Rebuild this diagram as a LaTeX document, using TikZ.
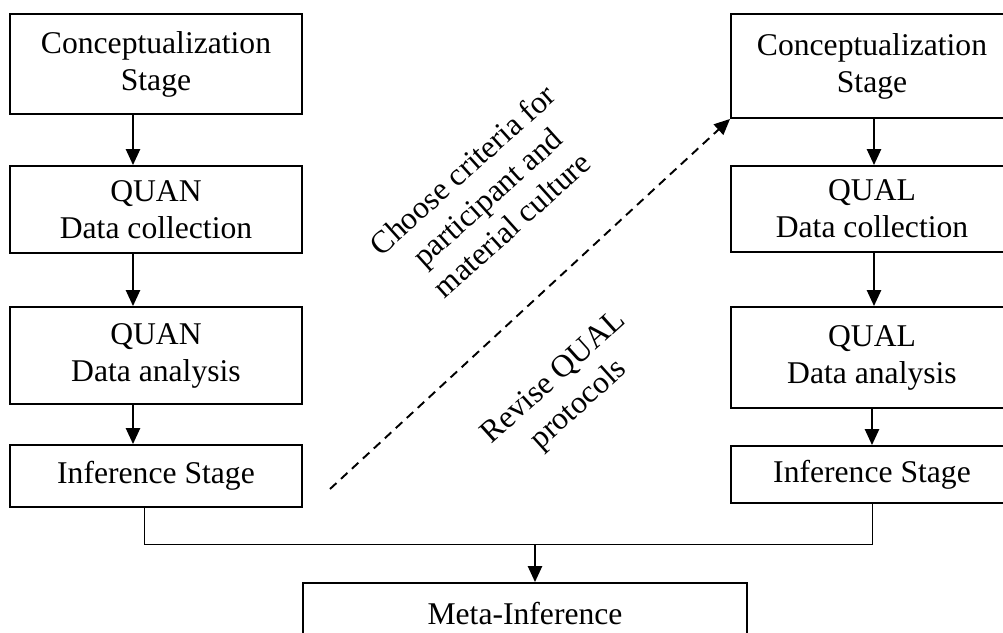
\documentclass[tikz,border=0pt]{standalone}
\usepackage{fontspec}
\setmainfont{Liberation Serif}
\usetikzlibrary{arrows.meta}
\begin{document}
\begin{tikzpicture}[
  font=\fontsize{18}{21}\selectfont,
  stagebox/.style={draw, line width=1.1pt, align=center, inner sep=0pt},
  arr/.style={line width=1.1pt, -{Triangle[length=9pt,width=8pt]}},
  joinline/.style={line width=0.5pt}
]
\useasboundingbox (0, 0) rectangle (20.06, -12.64);

\node[stagebox, minimum width=5.84cm, minimum height=2.00cm] (convL) at (3.12, -1.28) {Conceptualization\\Stage};
\node[stagebox, minimum width=5.84cm, minimum height=1.74cm] (dcL) at (3.12, -4.19) {QUAN\\Data collection};
\node[stagebox, minimum width=5.84cm, minimum height=1.94cm] (daL) at (3.12, -7.11) {QUAN\\Data analysis};
\node[stagebox, minimum width=5.84cm, minimum height=1.24cm] (infL) at (3.12, -9.52) {Inference Stage};

\node[stagebox, minimum width=5.64cm, minimum height=2.08cm] (convR) at (17.44, -1.32) {Conceptualization\\Stage};
\node[stagebox, minimum width=5.64cm, minimum height=1.72cm] (dcR) at (17.44, -4.18) {QUAL\\Data collection};
\node[stagebox, minimum width=5.64cm, minimum height=2.02cm] (daR) at (17.44, -7.15) {QUAL\\Data analysis};
\node[stagebox, minimum width=5.64cm, minimum height=1.14cm] (infR) at (17.44, -9.49) {Inference Stage};

\node[stagebox, minimum width=8.88cm, minimum height=1.24cm] (meta) at (10.5, -12.28) {Meta-Inference};

\draw[arr] ([xshift=-0.46cm]convL.south) -- ([xshift=-0.46cm]dcL.north);
\draw[arr] ([xshift=-0.46cm]dcL.south) -- ([xshift=-0.46cm]daL.north);
\draw[arr] ([xshift=-0.46cm]daL.south) -- ([xshift=-0.46cm]infL.north);

\draw[arr] ([xshift=0.04cm]convR.south) -- ([xshift=0.04cm]dcR.north);
\draw[arr] ([xshift=0.04cm]dcR.south) -- ([xshift=0.04cm]daR.north);
\draw[arr] (daR.south) -- (infR.north);

\coordinate (join) at (10.7, -10.88);
\draw[joinline] ([xshift=-0.24cm]infL.south) |- (infR.south |- join) -- (infR.south);
\draw[arr] (join) -- (join |- meta.north);

\coordinate (dashstart) at (6.6, -9.78);
\draw[arr, dash pattern=on 5pt off 3.5pt] (dashstart) -- (convR.south west);

\node[rotate=42, align=center] (criteria) at (9.74, -3.94) {Choose criteria for\\participant and\\material culture};
\node[rotate=42, align=center] (revise) at (11.34, -7.84) {Revise QUAL\\protocols};
\end{tikzpicture}
\end{document}
